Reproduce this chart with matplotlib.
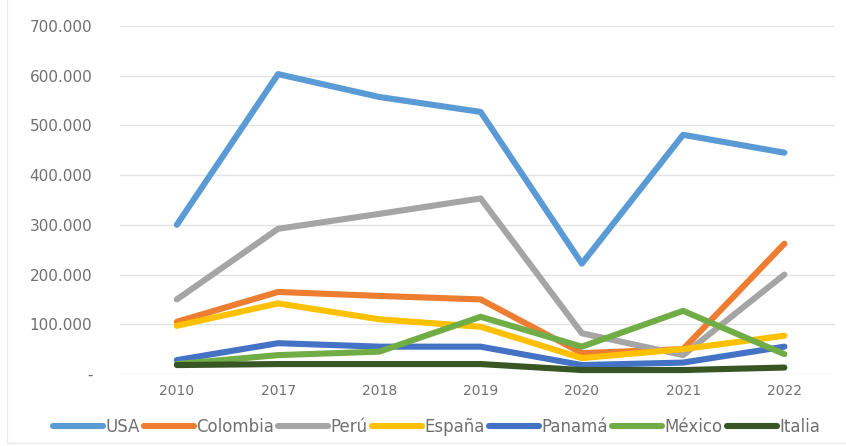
import matplotlib
matplotlib.use("Agg")
import matplotlib.pyplot as plt
from matplotlib.ticker import FuncFormatter
from matplotlib.lines import Line2D

years = ["2010", "2017", "2018", "2019", "2020", "2021", "2022"]
usa      = [300000, 603000, 557000, 527000, 222000, 481000, 445000]
colombia = [105000, 165000, 157000, 150000, 42000, 50000, 262000]
peru     = [150000, 292000, 322000, 353000, 82000, 38000, 200000]
espana   = [97000, 142000, 110000, 95000, 32000, 50000, 77000]
panama   = [28000, 62000, 55000, 55000, 18000, 23000, 55000]
mexico   = [20000, 38000, 45000, 115000, 55000, 127000, 40000]
italia   = [18000, 20000, 20000, 20000, 8000, 8000, 13000]

series = [
    ("USA", usa, "#5B9BD5"),
    ("Colombia", colombia, "#ED7D31"),
    ("Perú", peru, "#A5A5A5"),
    ("España", espana, "#FFC000"),
    ("Panamá", panama, "#4472C4"),
    ("México", mexico, "#70AD47"),
    ("Italia", italia, "#375623"),
]

plt.rcParams['font.family'] = ['DejaVu Sans']
fig = plt.figure(figsize=(8.46, 4.46), dpi=100)
ax = fig.add_axes([0.142, 0.1614, 0.845, 0.7806])

x = list(range(len(years)))
for name, vals, col in series:
    ax.plot(x, vals, color=col, lw=4.4, label=name, solid_joinstyle='round', solid_capstyle='round')

ax.set_ylim(0, 700000)
ax.set_xlim(-0.56, 6.5)
ax.set_yticks(range(0, 700001, 100000))
ax.yaxis.set_major_formatter(FuncFormatter(
    lambda v, p: "-" if v == 0 else f"{int(v):,}".replace(",", ".")))
ax.set_xticks(x)
ax.set_xticklabels(years)
ax.grid(axis='y', color='#E3E3E3', lw=1)
ax.set_axisbelow(True)
for s in ax.spines.values():
    s.set_visible(False)
ax.tick_params(axis='y', length=0, pad=20, labelsize=11, labelcolor='#707070')
ax.tick_params(axis='x', length=0, pad=7, labelsize=10, labelcolor='#707070')

fig.legend(loc='center', bbox_to_anchor=(0.516, 0.043), ncol=7, frameon=False,
           fontsize=12, handlelength=3.0, handletextpad=0.15, columnspacing=0.25,
           labelcolor='#707070')

# faint outer frame (left and bottom) as in the reference
fig.add_artist(Line2D([7/846, 7/846], [3/446, 1], transform=fig.transFigure, color='#EBEBEB', lw=1))
fig.add_artist(Line2D([7/846, 1], [3/446, 3/446], transform=fig.transFigure, color='#EBEBEB', lw=1))

fig.savefig("out.png", dpi=100)
